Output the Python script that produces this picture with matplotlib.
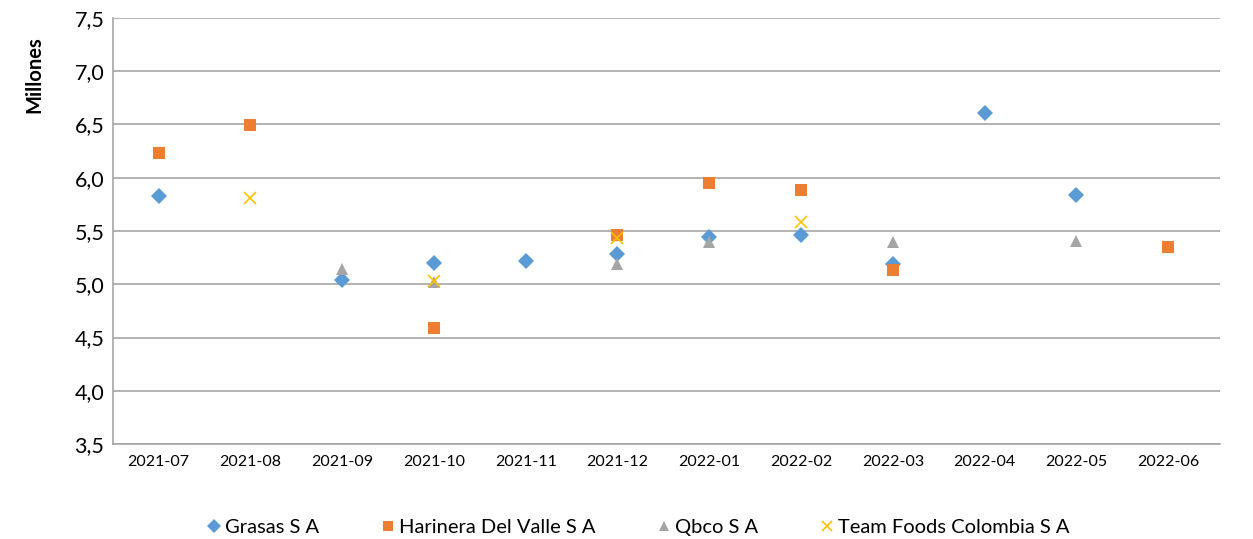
import matplotlib.pyplot as plt
import numpy as np
from matplotlib.ticker import FuncFormatter

plt.rcParams['font.family'] = ['Lato', 'DejaVu Sans']

months = ["2021-07", "2021-08", "2021-09", "2021-10", "2021-11", "2021-12",
          "2022-01", "2022-02", "2022-03", "2022-04", "2022-05", "2022-06"]

# values in millions, None = no data
grasas = [5.83, None, 5.04, 5.20, 5.22, 5.28, 5.44, 5.46, 5.19, 6.61, 5.84, None]
harinera = [6.23, 6.49, None, 4.59, None, 5.46, 5.95, 5.88, 5.13, None, None, 5.35]
qbco = [None, None, 5.14, 5.02, None, 5.19, 5.40, None, 5.40, None, 5.41, None]
team_foods = [None, 5.81, None, 5.03, None, 5.43, None, 5.58, None, None, None, None]

series = [
    ("Grasas S A", grasas, "D", "#5b9bd5", 8),
    ("Harinera Del Valle S A", harinera, "s", "#ed7d31", 9),
    ("Qbco S A", qbco, "^", "#a5a5a5", 9),
    ("Team Foods Colombia S A", team_foods, "x", "#ffc000", 9),
]

fig = plt.figure(figsize=(12.53, 5.39), dpi=100)
ax = fig.add_axes([0.090, 0.176, 0.884, 0.791])

x = np.arange(len(months))
for name, vals, mk, col, ms in series:
    xs = [i for i, v in zip(x, vals) if v is not None]
    ys = [v for v in vals if v is not None]
    ax.plot(xs, ys, linestyle="none", marker=mk, color=col, markersize=ms,
            markeredgewidth=1.2 if mk == "x" else 0, label=name, zorder=3)

ax.set_xlim(-0.5, 11.57)
ax.set_ylim(3.5, 7.5)
ax.set_yticks(np.arange(3.5, 7.51, 0.5))
ax.yaxis.set_major_formatter(FuncFormatter(lambda v, p: f"{v:.1f}".replace(".", ",")))
ax.set_xticks(x)
ax.set_xticklabels(months, fontsize=11.5)
ax.tick_params(axis="y", labelsize=15.5, length=0, pad=6)
ax.tick_params(axis="x", length=0, pad=8)

ax.grid(axis="y", color="#a6a6a6", linewidth=1.2)
ax.set_axisbelow(True)
for s in ["top", "right"]:
    ax.spines[s].set_visible(False)
for s in ["left", "bottom"]:
    ax.spines[s].set_color("#a6a6a6")
    ax.spines[s].set_linewidth(1.2)

ax.set_ylabel("Millones", fontsize=14.5, fontweight="bold")
ax.yaxis.set_label_coords(-0.062, 0.866)

ax.legend(loc="center", bbox_to_anchor=(0.473, -0.195), ncol=4, frameon=False,
          fontsize=14.5, handletextpad=0.05, columnspacing=2.9, handlelength=1.0,
          markerscale=0.85)

fig.savefig("out.png", dpi=100)
